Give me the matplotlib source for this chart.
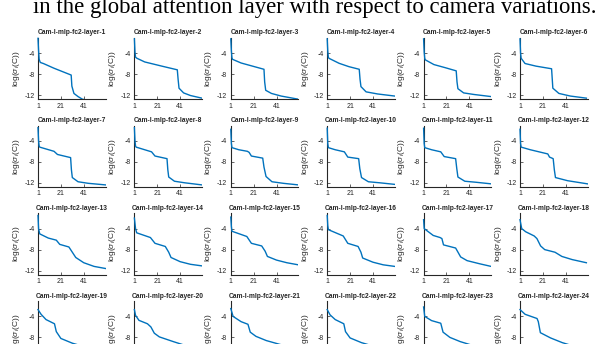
import matplotlib.pyplot as plt
from matplotlib.transforms import Bbox, TransformedBbox

plt.rcParams['font.family'] = ['Liberation Sans', 'DejaVu Sans']
plt.rcParams['mathtext.fontset'] = 'custom'
plt.rcParams['mathtext.rm'] = 'Liberation Sans'
plt.rcParams['mathtext.it'] = 'Liberation Sans:italic'

# singular value spectra of the mlp-fc2 camera features, one curve per layer
# (rank index, log singular value) knots
ranks = [
    [1, 1.5, 2, 3, 5.7, 15, 30, 30.6, 32.4, 36, 39.8, 50, 60],
    [1, 1.5, 2, 3.2, 10, 25, 38.5, 39.2, 40, 44, 50, 60],
    [1, 1.5, 2, 2.5, 10, 20, 30, 30.6, 31.5, 36.5, 45, 60],
    [1, 1.5, 2, 2.5, 11.4, 20, 29, 29.7, 30.5, 35, 45, 60],
    [1, 1.5, 2, 2.5, 10, 20, 29.5, 30.2, 31, 36, 45, 60],
    [1, 1.5, 2, 5.4, 15, 28.6, 29.2, 29.7, 35, 45, 59],
    [1, 1.5, 2, 2.5, 15, 18, 29.5, 30.2, 31, 36, 45, 60],
    [1, 1.5, 2, 2.5, 16, 19, 29.5, 30.2, 31, 36, 45, 60],
    [1, 1.5, 2, 8, 15.5, 17, 19, 28.9, 30, 31.8, 37, 47, 60],
    [1, 1.5, 2, 8, 16, 19, 28.5, 29.5, 31, 37, 47, 60],
    [1, 1.5, 2, 8, 16, 19, 29, 30, 31, 37, 47, 60],
    [1, 1.5, 2, 10, 25.3, 26.8, 30, 31, 32, 42.6, 60],
    [1, 1.5, 2.5, 10, 17, 20, 28, 31, 34, 41, 50, 60],
    [1, 2, 3, 15, 19, 28, 31, 33, 41, 50, 60],
    [1, 1.5, 2, 15, 19, 28, 31, 33, 41, 50, 60],
    [1, 1.5, 2, 15, 19, 28, 30.5, 32, 41, 50, 60],
    [1, 1.5, 9.4, 15.4, 17, 18.4, 29, 33.4, 39, 50, 60],
    [1, 2.5, 6, 13.4, 15.8, 19, 22.6, 31.6, 37.6, 46.6, 59],
    [1, 3.7, 8, 15.4, 17, 21, 31, 45, 60],
    [1, 2, 5, 12.4, 15.4, 18.4, 22.8, 35, 45, 60],
    [1, 3, 10, 16, 18, 23, 32, 45, 60],
    [1, 3.5, 8, 15.5, 17, 21, 31, 45, 60],
    [1, 2, 8, 16, 18, 24, 33, 45, 60],
    [1, 5.5, 15.9, 17, 18.8, 27.7, 38, 50, 60],
]
log_sigma = [
    [-1.2, -3.5, -5.2, -5.8, -6.0, -6.9, -8.2, -10.3, -11.7, -12.3, -12.8, -13.3, -13.6],
    [-1.3, -3.8, -4.8, -5.0, -5.7, -6.5, -7.2, -9.0, -10.7, -11.6, -12.1, -12.6],
    [-1.3, -3.6, -4.9, -5.2, -5.9, -6.5, -7.1, -9.5, -11.1, -11.7, -12.2, -12.8],
    [-1.3, -3.6, -4.8, -5.0, -5.96, -6.6, -7.1, -9.0, -10.4, -11.4, -11.8, -12.2],
    [-1.3, -3.8, -5.0, -5.3, -6.2, -6.8, -7.4, -9.5, -10.8, -11.6, -11.9, -12.3],
    [-1.3, -4.0, -5.0, -6.0, -6.5, -7.0, -9.0, -10.7, -11.7, -12.2, -12.6],
    [-1.5, -4.0, -5.0, -5.2, -6.0, -6.6, -7.2, -9.5, -11.0, -11.8, -12.1, -12.4],
    [-1.5, -4.0, -5.0, -5.2, -6.1, -6.9, -7.4, -9.5, -10.9, -11.7, -12.0, -12.4],
    [-1.8, -4.5, -5.3, -5.7, -6.0, -6.2, -6.9, -7.3, -9.0, -10.8, -11.8, -12.1, -12.4],
    [-1.6, -4.5, -5.3, -5.7, -6.1, -7.1, -7.4, -9.3, -11.0, -11.8, -12.0, -12.3],
    [-1.6, -4.5, -5.3, -5.7, -6.1, -7.0, -7.4, -9.3, -10.9, -11.7, -11.9, -12.2],
    [-1.8, -4.5, -5.2, -5.7, -6.5, -7.1, -7.4, -9.5, -11.0, -11.6, -12.2],
    [-1.5, -4.0, -5.0, -5.8, -6.2, -7.0, -7.5, -8.5, -9.5, -10.5, -11.2, -11.6],
    [-2.0, -4.0, -4.8, -5.7, -6.8, -7.4, -8.5, -9.5, -10.3, -10.8, -11.1],
    [-1.8, -3.6, -4.5, -5.5, -6.8, -7.3, -8.3, -9.3, -10.0, -10.5, -10.9],
    [-1.5, -3.4, -4.2, -5.4, -6.8, -7.4, -8.5, -9.6, -10.4, -10.9, -11.2],
    [-2.3, -4.0, -5.3, -5.7, -5.9, -7.1, -7.7, -9.4, -10.1, -10.7, -11.2],
    [-2.3, -4.0, -4.6, -5.4, -5.9, -7.3, -8.0, -8.5, -9.3, -9.9, -10.5],
    [-2.7, -3.6, -4.6, -5.4, -6.9, -8.2, -9.1, -10.0, -10.5],
    [-2.7, -3.8, -4.75, -5.4, -6.0, -7.2, -7.9, -8.8, -9.5, -10.2],
    [-2.5, -4.0, -5.0, -5.5, -7.0, -7.8, -8.6, -9.4, -10.0],
    [-2.7, -3.7, -4.6, -5.4, -6.9, -8.1, -9.0, -9.9, -10.4],
    [-2.2, -4.0, -4.8, -5.3, -7.0, -8.0, -8.8, -9.6, -10.2],
    [-2.7, -3.6, -4.4, -5.0, -7.1, -8.1, -9.0, -9.8, -10.3],
]
titles = ['Cam-l-mlp-fc2-layer-%d' % (i + 1) for i in range(24)]
x_ticks = [1, 21, 41]
y_ticks = [-12, -8, -4]

W, H = 602, 344
fig = plt.figure(figsize=(W / 100, H / 100), dpi=100)

# tail of the caption line above the grid
fig.text(315 / W, 1 - 12.5 / H, 'in the global attention layer with respect to camera variations.',
         family='Liberation Serif', fontsize=16.4, ha='center', va='baseline')

ax_w, ax_h = 67.5, 61.4
for i in range(24):
    r, c = divmod(i, 6)
    left = 38 + 96.4 * c
    top = 37.8 + 87.8 * r
    ax = fig.add_axes([left / W, 1 - (top + ax_h) / H, ax_w / W, ax_h / H])
    line, = ax.plot(ranks[i], log_sigma[i], color='#0072BD', lw=1.0, zorder=3)
    # let the first drop sit on top of the y axis line instead of being cut in half
    line.set_clip_box(TransformedBbox(Bbox([[-0.03, 0], [1.0, 1.02]]), ax.transAxes))
    ax.set_xlim(1, 60)
    ax.set_ylim(-12.8, -1.1)
    ax.set_xticks(x_ticks)
    ax.set_yticks(y_ticks)
    ax.set_xticklabels([str(t) for t in x_ticks])
    ax.set_yticklabels([str(t) for t in y_ticks])
    for s in ['top', 'right']:
        ax.spines[s].set_visible(False)
    for s in ['left', 'bottom']:
        ax.spines[s].set_color('#262626')
        ax.spines[s].set_linewidth(0.8)
    ax.tick_params(direction='in', length=2, width=0.5, colors='#262626',
                   labelsize=5, pad=2.5)
    ax.set_title(titles[i], fontsize=4.8, fontweight='bold', color='#262626', pad=2.5)
    ax.set_ylabel(r'log($\sigma_i$(C))', fontsize=6, color='#262626', labelpad=2)

fig.savefig('out.png', dpi=100)
